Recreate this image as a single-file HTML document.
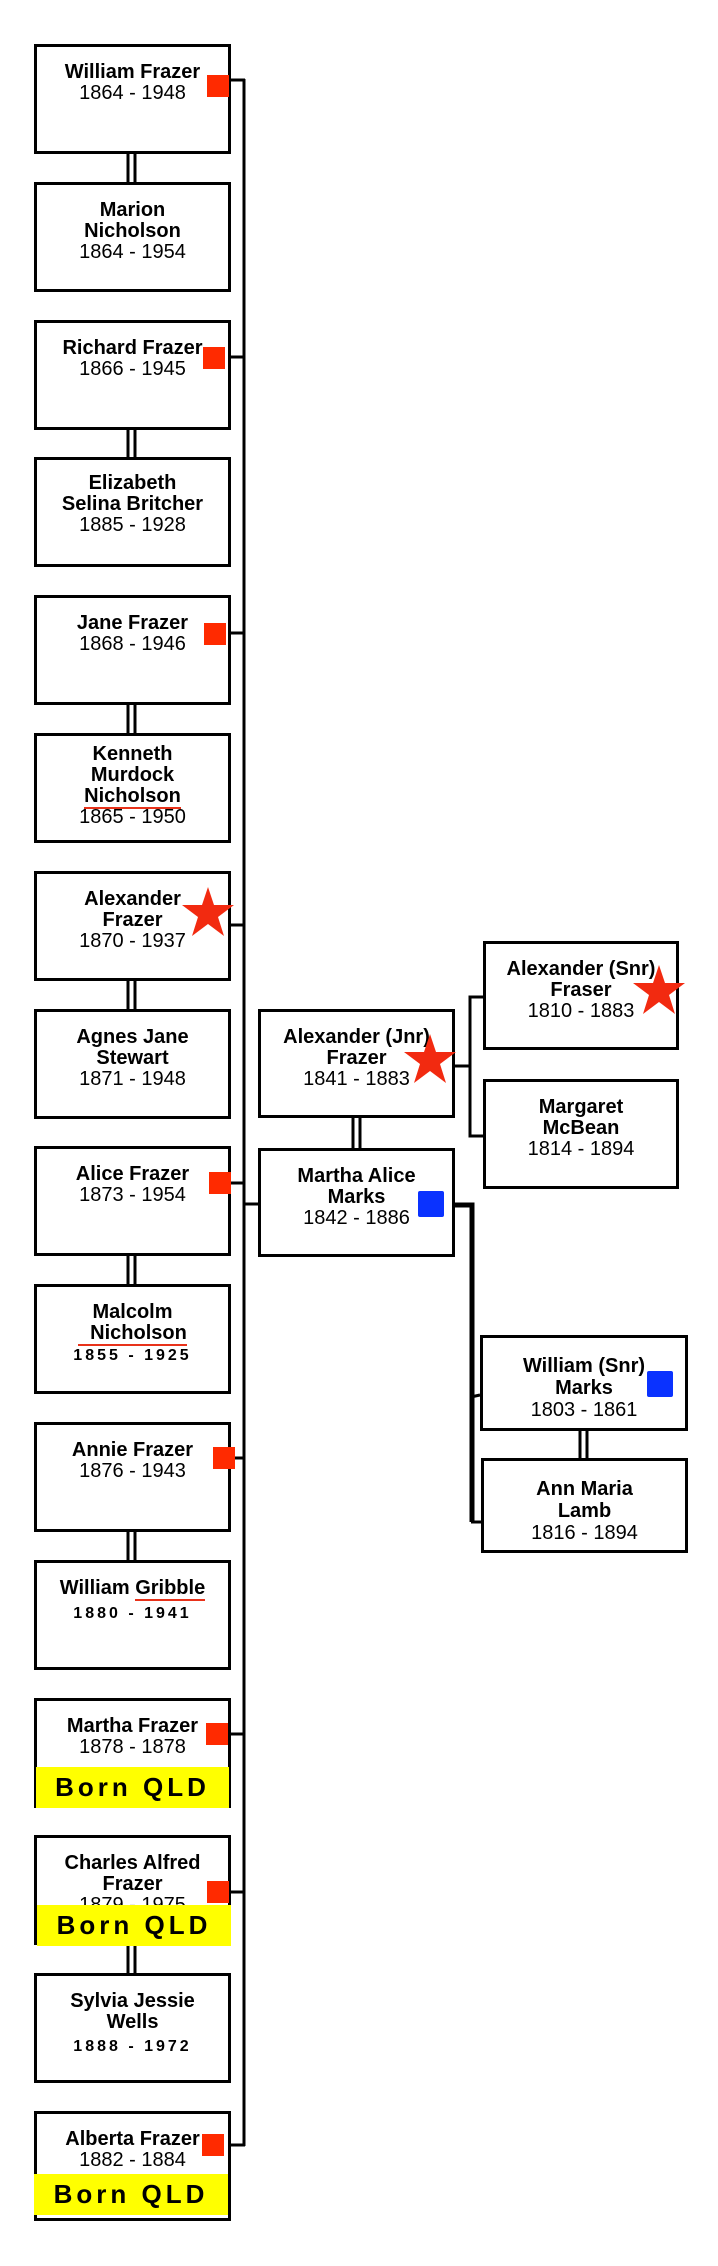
<!DOCTYPE html>
<html><head><meta charset="utf-8"><style>
html,body{margin:0;padding:0;background:#fff;}
body{width:718px;height:2266px;position:relative;overflow:hidden;font-family:"Liberation Sans",Arial,sans-serif;}
.b{position:absolute;border:3px solid #000;box-sizing:border-box;text-align:center;font-weight:bold;font-size:20px;line-height:21px;padding-top:15px;color:#000;background:#fff;}
.L{left:34px;width:197px;height:110px;}
.d{font-weight:normal;}
.s{font-size:16px;letter-spacing:3px;}
.u{border-bottom:2px solid #e8321a;}
.y{position:absolute;background:#ffff00;font-weight:bold;font-size:26px;letter-spacing:4px;text-align:center;line-height:41px;height:41px;}
.r{position:absolute;width:22px;height:22px;background:#ff2a00;}
.bl{position:absolute;width:26px;height:26px;background:#0a32ff;border-radius:2px;}
svg{position:absolute;left:0;top:0;}
</style></head><body>
<svg width="718" height="2266">
<g stroke="#000" stroke-width="3" fill="none">
<line x1="244" y1="79" x2="244" y2="2146"/>
<line x1="229" y1="80" x2="245" y2="80"/>
<line x1="229" y1="357" x2="245" y2="357"/>
<line x1="229" y1="633" x2="245" y2="633"/>
<line x1="229" y1="925" x2="245" y2="925"/>
<line x1="229" y1="1183" x2="245" y2="1183"/>
<line x1="243" y1="1204" x2="259" y2="1204"/>
<line x1="229" y1="1458" x2="245" y2="1458"/>
<line x1="229" y1="1734" x2="245" y2="1734"/>
<line x1="229" y1="1892" x2="245" y2="1892"/>
<line x1="229" y1="2145" x2="245" y2="2145"/>
<path d="M128 154V182M135 154V182M128 430V457M135 430V457M128 705V733M135 705V733M128 981V1009M135 981V1009M128 1256V1284M135 1256V1284M128 1532V1560M135 1532V1560M128 1945V1973M135 1945V1973"/>
<path d="M353 1117V1148M360 1117V1148M580 1430V1458M587 1430V1458"/>
<path d="M455 1066H470M483 997H470V1136H483"/>
<path d="M480 1395L471 1397M481 1522H471"/>
</g>
<path d="M453 1205H472V1522" stroke="#000" stroke-width="5" fill="none"/>
</svg>

<div class="b L" style="top:44px">William Frazer<br><span class="d">1864 - 1948</span></div>
<div class="b L" style="top:182px">Marion<br>Nicholson<br><span class="d">1864 - 1954</span></div>
<div class="b L" style="top:320px">Richard Frazer<br><span class="d">1866 - 1945</span></div>
<div class="b L" style="top:457px;padding-top:13px">Elizabeth<br>Selina Britcher<br><span class="d">1885 - 1928</span></div>
<div class="b L" style="top:595px">Jane Frazer<br><span class="d">1868 - 1946</span></div>
<div class="b L" style="top:733px;padding-top:8px">Kenneth<br>Murdock<br><span class="u">Nicholson</span><br><span class="d">1865 - 1950</span></div>
<div class="b L" style="top:871px">Alexander<br>Frazer<br><span class="d">1870 - 1937</span></div>
<div class="b L" style="top:1009px">Agnes Jane<br>Stewart<br><span class="d">1871 - 1948</span></div>
<div class="b L" style="top:1146px">Alice Frazer<br><span class="d">1873 - 1954</span></div>
<div class="b L" style="top:1284px">Malcolm<br><span class="u" style="padding-left:12px">Nicholson</span><br><span class="s">1855 - 1925</span></div>
<div class="b L" style="top:1422px">Annie Frazer<br><span class="d">1876 - 1943</span></div>
<div class="b L" style="top:1560px">William <span class="u">Gribble</span><br><span class="s" style="line-height:30px">1880 - 1941</span></div>
<div class="b L" style="top:1698px">Martha Frazer<br><span class="d">1878 - 1878</span></div>
<div class="b L" style="top:1835px">Charles Alfred<br>Frazer<br><span class="d">1879 - 1975</span></div>
<div class="b L" style="top:1973px">Sylvia Jessie<br>Wells<br><span class="s" style="line-height:28px">1888 - 1972</span></div>
<div class="b L" style="top:2111px">Alberta Frazer<br><span class="d">1882 - 1884</span></div>

<div class="y" style="left:36px;top:1767px;width:193px">Born QLD</div>
<div class="y" style="left:37px;top:1905px;width:194px">Born QLD</div>
<div class="y" style="left:34px;top:2174px;width:194px">Born QLD</div>

<div class="r" style="left:207px;top:75px"></div>
<div class="r" style="left:203px;top:347px"></div>
<div class="r" style="left:204px;top:623px"></div>
<div class="r" style="left:209px;top:1172px"></div>
<div class="r" style="left:213px;top:1447px"></div>
<div class="r" style="left:206px;top:1723px"></div>
<div class="r" style="left:207px;top:1881px"></div>
<div class="r" style="left:202px;top:2134px"></div>

<div class="b" style="left:258px;top:1009px;width:197px;height:109px">Alexander (Jnr)<br>Frazer<br><span class="d">1841 - 1883</span></div>
<div class="b" style="left:258px;top:1148px;width:197px;height:109px">Martha Alice<br>Marks<br><span class="d">1842 - 1886</span></div>
<div class="b" style="left:483px;top:941px;width:196px;height:109px">Alexander (Snr)<br>Fraser<br><span class="d">1810 - 1883</span></div>
<div class="b" style="left:483px;top:1079px;width:196px;height:110px">Margaret<br>McBean<br><span class="d">1814 - 1894</span></div>
<div class="b" style="left:480px;top:1335px;width:208px;height:96px;padding-top:17px;line-height:22px">William (Snr)<br>Marks<br><span class="d">1803 - 1861</span></div>
<div class="b" style="left:481px;top:1458px;width:207px;height:95px;padding-top:17px;line-height:22px">Ann Maria<br>Lamb<br><span class="d">1816 - 1894</span></div>

<div class="bl" style="left:418px;top:1191px"></div>
<div class="bl" style="left:647px;top:1371px"></div>
<svg width="718" height="2266" style="pointer-events:none">
<g fill="#f22a10">
<polygon points="208,887 214,905 234,905 218,917 224,936 208,924 192,936 198,917 182,905 202,905"/>
<polygon points="430,1034 436,1052 456,1052 440,1064 446,1083 430,1071 414,1083 420,1064 404,1052 424,1052"/>
<polygon points="659,965 665,983 685,983 669,995 675,1014 659,1002 643,1014 649,995 633,983 653,983"/>
</g>
</svg>
</body></html>
